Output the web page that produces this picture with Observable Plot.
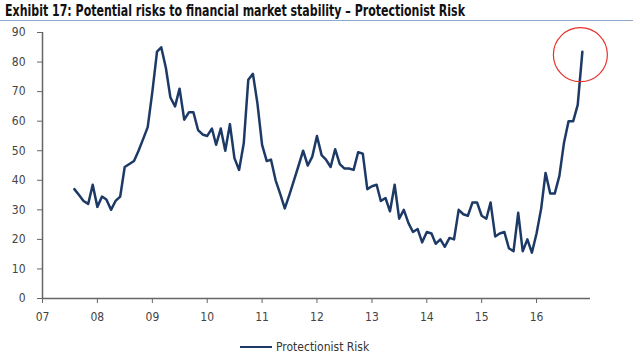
<!DOCTYPE html>
<html><head><meta charset="utf-8">
<script src="https://cdn.jsdelivr.net/npm/d3@7"></script>
<script src="https://cdn.jsdelivr.net/npm/@observablehq/plot@0.6"></script>
<style>
body{margin:0;background:#fff;width:640px;height:360px;overflow:hidden;position:relative;font-family:"Liberation Sans Narrow","DejaVu Sans Condensed","Liberation Sans",Arial,sans-serif;}
#titlebar{position:absolute;left:0;top:0;width:633px;height:20px;border-bottom:1.5px solid #8fa9cc;}
#title{position:absolute;left:5px;top:2px;font-weight:bold;font-size:15px;color:#111;white-space:nowrap;transform-origin:0 0;}
#chart{position:absolute;left:0;top:24px;}
#legend{position:absolute;top:340px;left:240px;font-size:12px;color:#333;display:flex;align-items:center;white-space:nowrap;}
#legend .sw{display:inline-block;width:32px;height:0;border-top:2.5px solid #1d3a66;margin-right:4px;}
</style>
</head><body>
<div id="titlebar"><div id="title">Exhibit 17: Potential risks to financial market stability – Protectionist Risk</div></div>
<div id="chart"></div>
<div id="legend"><span class="sw"></span><span>Protectionist Risk</span></div>
<script>
const seriesName = "Protectionist Risk";
const startYear = 2007, startMonth = 7; // Aug 2007 (0-based month)
const values = [
  37, 35, 33, 32, 38.5,
  31, 34.5, 33.5, 30, 33, 34.5, 44.5, 45.5, 46.5, 50, 54, 58,
  70, 83.5, 85, 78, 68, 65, 71, 60.5, 63, 63, 57, 55.5,
  55, 57.5, 52, 57.5, 50, 59, 47.5, 43.5, 52.5, 74, 76, 66,
  52, 46.5, 47, 40, 35.5, 30.5, 35, 40, 45, 50, 45, 48,
  55, 48.5, 47, 44.5, 50.5, 45.5, 44, 44, 43.5, 49.5, 49, 37,
  38, 38.5, 33, 34, 29.5, 38.5, 27, 30, 25.5, 22.5, 23.5, 19,
  22.5, 22, 18.5, 20, 17.5, 20.5, 20, 30, 28.5, 28, 32.5, 32.5,
  28, 27, 32.5, 21, 22, 22.5, 17, 16, 29, 16, 20, 15.5,
  22, 30.5, 42.5, 35.5, 35.5, 41.5, 52.5, 60, 60, 65.5, 83.5
];
const yTicks = [0, 10, 20, 30, 40, 50, 60, 70, 80, 90];
const xTickYears = [2007, 2008, 2009, 2010, 2011, 2012, 2013, 2014, 2015, 2016];

const data = values.map((v, i) => ({date: new Date(Date.UTC(startYear, startMonth + i, 1)), value: v}));
const last = data[data.length - 1];
const xStart = new Date(Date.UTC(2007, 0, 1));
const xEnd = new Date(Date.UTC(2016, 11, 25));

const chart = Plot.plot({
  width: 640,
  height: 310,
  marginLeft: 42,
  marginRight: 50,
  marginTop: 8,
  marginBottom: 36,
  style: {fontFamily: '"Liberation Sans Narrow","DejaVu Sans Condensed","Liberation Sans",Arial,sans-serif', fontSize: "12px", color: "#444", background: "#fff"},
  x: {type: "utc", domain: [xStart, xEnd]},
  y: {domain: [0, 90]},
  marks: [
    Plot.axisY({ticks: yTicks, tickSize: 5, tickPadding: 12, label: null, stroke: "#666", fill: "#444", fontSize: 12}),
    Plot.axisX({ticks: xTickYears.map(y => new Date(Date.UTC(y, 0, 1))), tickFormat: d3.utcFormat("%y"), tickSize: 5, tickPadding: 9, label: null, stroke: "#666", fill: "#444", fontSize: 12}),
    Plot.ruleY([0], {stroke: "#666", strokeWidth: 1.5}),
    Plot.ruleX([xStart], {stroke: "#666", strokeWidth: 1.5}),
    Plot.line(data, {x: "date", y: "value", stroke: "#1d3a66", strokeWidth: 2.5, strokeLinejoin: "round"}),
    Plot.dot([last], {x: "date", y: "value", r: 27, fill: "none", stroke: "#e8302c", strokeWidth: 1.2, dx: -2, dy: 3})
  ]
});
document.getElementById("chart").appendChild(chart);

const t = document.getElementById("title");
const w = t.getBoundingClientRect().width;
t.style.transform = `scaleX(${460 / w})`;
</script>
</body></html>
